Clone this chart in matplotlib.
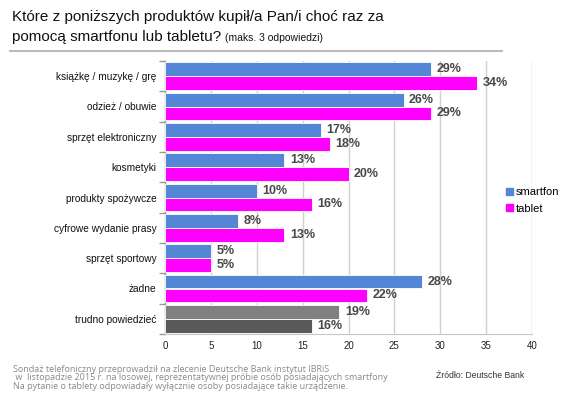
import matplotlib
matplotlib.use("Agg")
import matplotlib.pyplot as plt
import numpy as np

categories = ["książkę / muzykę / grę", "odzież / obuwie", "sprzęt elektroniczny",
              "kosmetyki", "produkty spożywcze", "cyfrowe wydanie prasy",
              "sprzęt sportowy", "żadne", "trudno powiedzieć"]
smartfon = [29, 26, 17, 13, 10, 8, 5, 28, 19]
tablet = [34, 29, 18, 20, 16, 13, 5, 22, 16]
xticks = [0, 5, 10, 15, 20, 25, 30, 35, 40]

plt.rcParams['font.family'] = ['Liberation Sans', 'DejaVu Sans']

fig = plt.figure(figsize=(5.85, 3.99), dpi=100)
ax = fig.add_axes([165/585, 1-334/399, 367/585, 273/399])

n = len(categories)
y = np.arange(n)
h = 0.46
c_s = ['#5486D6'] * (n - 1) + ['#808080']
c_t = ['#FF00FF'] * (n - 1) + ['#595959']
ax.barh(y - h/2, smartfon, height=h, color=c_s, edgecolor='white', linewidth=0.6, zorder=3)
ax.barh(y + h/2, tablet, height=h, color=c_t, edgecolor='white', linewidth=0.6, zorder=3)
for i in range(n):
    ax.text(smartfon[i] + 0.6, y[i] - h/2, f"{smartfon[i]}%", va='center', ha='left',
            fontsize=9, fontweight='bold', color='#484848', zorder=4)
    ax.text(tablet[i] + 0.6, y[i] + h/2, f"{tablet[i]}%", va='center', ha='left',
            fontsize=9, fontweight='bold', color='#484848', zorder=4)

ax.set_ylim(n - 0.5, -0.5)
ax.set_xlim(0, 40)
ax.set_xticks(xticks)
ax.set_xticklabels([str(v) for v in xticks], fontsize=7, color='#222222')
ax.set_yticks(y)
ax.set_yticklabels(categories, fontsize=7.3, color='#111111')
ax.set_yticks(np.arange(n + 1) - 0.5, minor=True)
ax.tick_params(axis='y', which='major', length=0, pad=6)
ax.tick_params(axis='y', which='minor', length=4, color='#999999', width=1)
ax.tick_params(axis='x', length=0, pad=5)
ax.grid(axis='x', color='#D0D0D0', linewidth=1, zorder=0)
for s in ['top', 'right']:
    ax.spines[s].set_visible(False)
ax.spines['left'].set_color('#999999')
ax.spines['bottom'].set_color('#C8C8C8')
ax.spines['left'].set_linewidth(1)

from matplotlib.patches import Patch
leg = fig.legend(handles=[Patch(color='#5486D6'), Patch(color='#FF00FF')],
                 labels=['smartfon', 'tablet'], loc='upper left',
                 bbox_to_anchor=(496/585, 1-177/399), frameon=False, fontsize=8,
                 handlelength=0.6, handleheight=0.6, handletextpad=0.3, labelspacing=0.6)

fig.text(12/585, 1-17/399, "Które z poniższych produktów kupił/a Pan/i choć raz za",
         fontsize=11, va='center', ha='left', color='#111111')
t2 = fig.text(12/585, 1-37/399, "pomocą smartfonu lub tabletu?", fontsize=11,
              va='center', ha='left', color='#111111')
fig.canvas.draw()
bb = t2.get_window_extent()
fig.text((bb.x1 + 4)/585, 1-38/399, "(maks. 3 odpowiedzi)", fontsize=7.5,
         va='center', ha='left', color='#111111')
fig.add_artist(plt.Line2D([10/585, 502/585], [1-50.5/399, 1-50.5/399],
                          color='#BBBBBB', linewidth=1.5, transform=fig.transFigure))

foot = ("Sondaż telefoniczny przeprowadził na zlecenie Deutsche Bank instytut IBRiS\n"
        " w  listopadzie 2015 r. na losowej, reprezentatywnej próbie osób posiadających smartfony\n"
        "Na pytanie o tablety odpowiadały wyłącznie osoby posiadające takie urządzenie.")
fig.text(13/585, 1-378/399, foot, fontsize=6.5, va='center', ha='left', color='#8A8A8A',
         family=['Open Sans', 'DejaVu Sans'], linespacing=0.95)
fig.text(436/585, 1-375/399, "Źródło: Deutsche Bank", fontsize=6.2, va='center', ha='left',
         color='#333333')

fig.savefig("out.png", dpi=100)
